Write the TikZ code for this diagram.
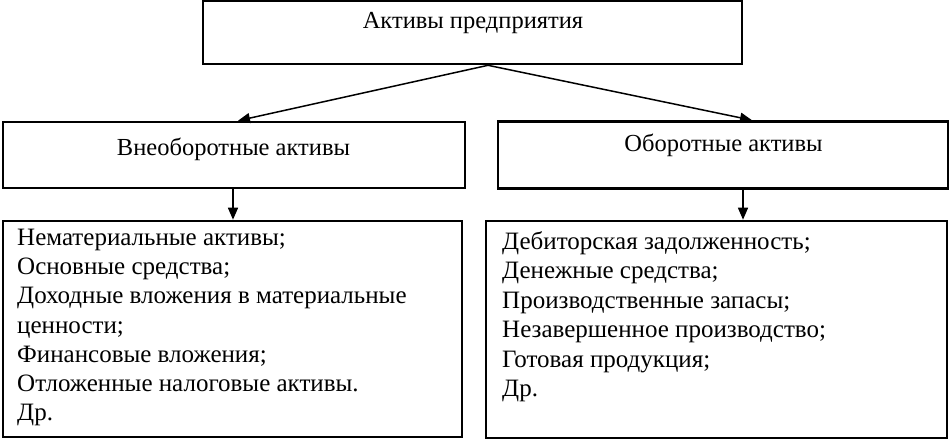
\documentclass[tikz,border=0pt]{standalone}
\usepackage{fontspec}
\setmainfont{Liberation Serif}
\usetikzlibrary{arrows.meta}
\begin{document}
\begin{tikzpicture}[x=1pt,y=-1pt,
  box/.style={draw,line width=2.6pt,rectangle,inner sep=0pt},
  lbl/.style={font=\fontsize{24.5}{28}\selectfont,inner sep=0pt},
  list/.style={font=\fontsize{25}{29.2}\selectfont,inner sep=0pt,align=left,anchor=north west},
  arr/.style={line width=1.5pt,-{Triangle[length=12pt,width=10pt]}}]
\useasboundingbox (0,0) rectangle (950,440);
\node[box,minimum width=539,minimum height=63] (top) at (472.5,32.5) {};
\node[lbl] (toptext) at (473,23) {Активы предприятия};
\node[box,minimum width=462,minimum height=66] (left) at (234,155) {};
\node[box,minimum width=450,minimum height=67] (right) at (723,155) {};
\node[lbl] (lefttext) at (233.5,149) {Внеоборотные активы};
\node[lbl] (righttext) at (723.5,145) {Оборотные активы};
\node[box,minimum width=459,minimum height=216] (bl) at (232.5,329) {};
\node[box,minimum width=461,minimum height=217] (br) at (716.5,329.5) {};
\node[list] (bltext) at (17,229) {Нематериальные активы;\\Основные средства;\\Доходные вложения в материальные\\ценности;\\Финансовые вложения;\\Отложенные налоговые активы.\\Др.};
\node[list,font=\fontsize{25}{29.5}\selectfont] (brtext) at (502,231) {Дебиторская задолженность;\\Денежные средства;\\Производственные запасы;\\Незавершенное производство;\\Готовая продукция;\\Др.};
\coordinate (apex) at ([xshift=15.5]top.south);
\draw[arr] (apex) -- ([xshift=4]left.north);
\draw[arr] (apex) -- ([xshift=29]right.north);
\draw[arr] ([xshift=-1]left.south) -- ([xshift=-1]left.south |- bl.north);
\draw[arr] ([xshift=20]right.south) -- ([xshift=20]right.south |- br.north);
\end{tikzpicture}
\end{document}
